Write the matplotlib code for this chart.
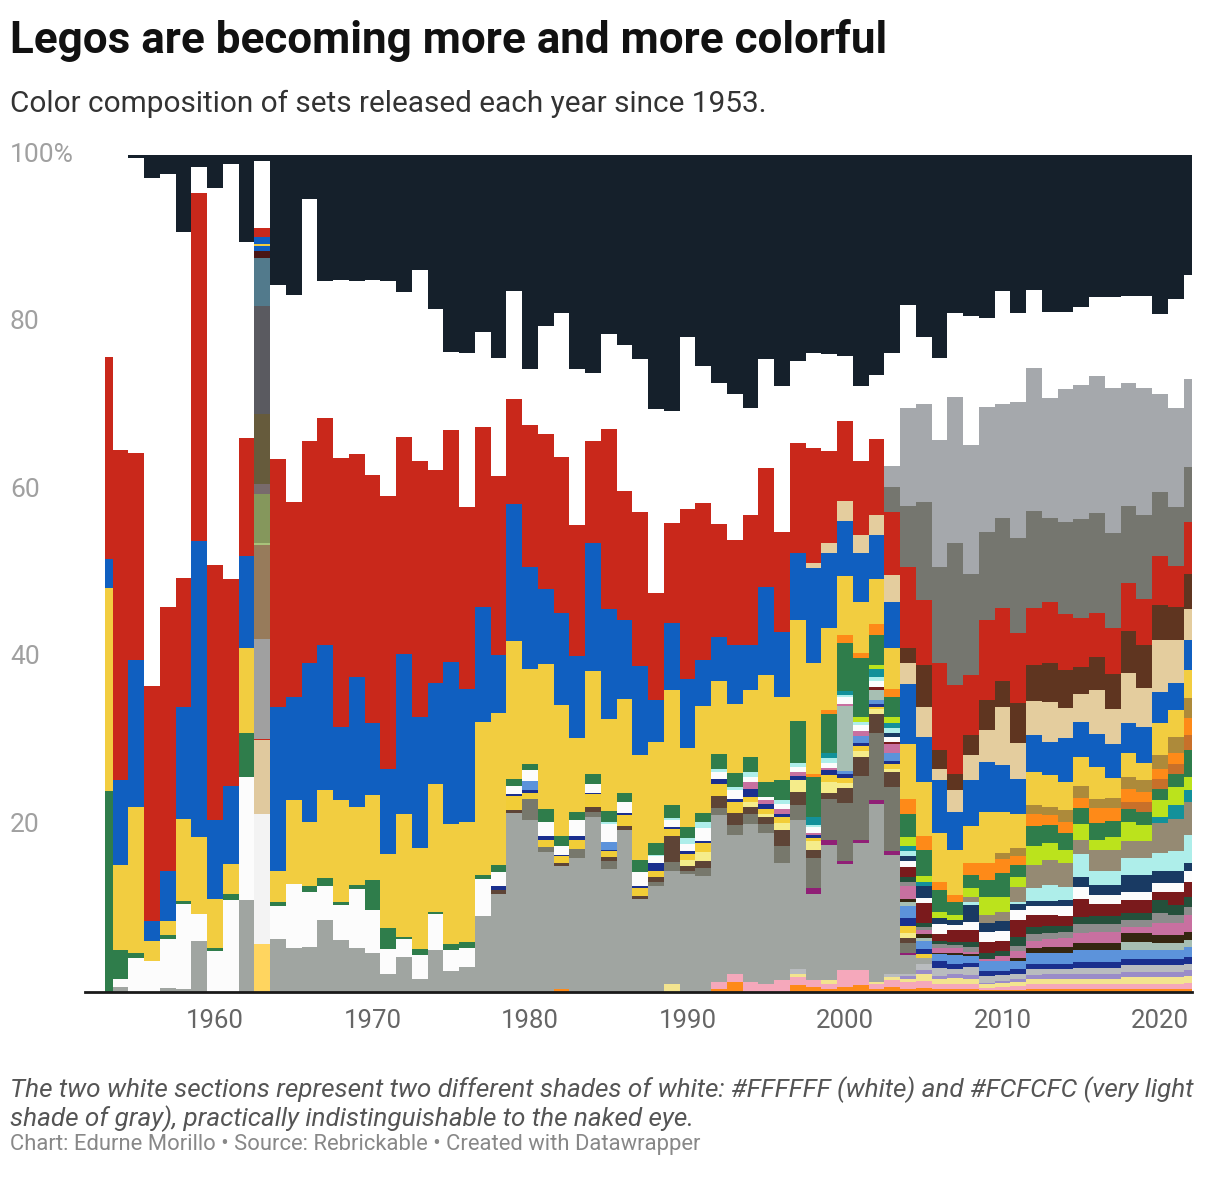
import numpy as np
import matplotlib.pyplot as plt

# Share of each Lego colour in the sets released per year (percent)
years = np.arange(1953, 2023)
N = len(years)


def pad(start, vals):
    # put a run of yearly values in place, zeros before and after
    out = [0.0] * (start - 1953) + list(vals)
    return out + [0.0] * (N - len(out))


# ---- bottom: tiny mixed colours ----
bot_orange = pad(1982, [0.3, 0, 0, 0, 0, 0, 0, 0, 0, 0, 0.4, 1.2, 0, 0, 0, 0.8, 0.6, 0.4, 0.6, 0.8,
                        0.3, 0.6, 0.4, 0.5, 0.4, 0.3, 0.3, 0.2, 0.2, 0.2, 0.3, 0.3, 0.3, 0.3, 0.3,
                        0.3, 0.3, 0.3, 0.3, 0.3, 0.3])
bot_pink = pad(1992, [0.8, 1.0, 1.2, 1.0, 1.4, 1.0, 0.8, 0.6, 2.0, 1.8, 0.6, 0.8, 0.8, 0.8, 0.6, 0.7,
                      0.6, 0.3, 0.4, 0.5, 0.6, 0.6, 0.6, 0.6, 0.6, 0.6, 0.7, 0.7, 0.7, 0.7, 0.8])
bot_yellow = pad(1989, [1.0, 0, 0, 0, 0, 0, 0, 0, 0.4, 0, 0.4, 0, 0, 0.3, 0.4, 0.4, 0.8, 0.6, 0.7, 0.7,
                        0.4, 0.5, 0.5, 0.7, 0.7, 0.7, 0.7, 0.7, 0.7, 0.8, 0.8, 0.8, 0.8, 0.8])
bot_lav = pad(2004, [0.3, 0.5, 0.3, 0.4, 0.4, 0.2, 0.2, 0.3, 0.4, 0.5, 0.5, 0.5, 0.5, 0.5, 0.6, 0.6,
                     0.6, 0.6, 0.7])
bot_gray = pad(1997, [0.6, 0, 0, 0, 0, 0, 0.4, 0.3, 0.7, 1.0, 0.7, 1.0, 0.8, 0.7, 0.7, 0.7, 0.7, 0.7,
                      0.8, 0.8, 0.8, 0.8, 0.8, 0.8, 0.8, 0.8])

# ---- old greys and the thin stripes above them ----
lgray = [0, 0.6, 0, 0, 0.5, 0.4, 6.1, 0, 0, 11.0,
         0,
         6.3, 5.2, 5.4, 8.6, 6.2, 5.2, 4.7, 2.2, 4.2, 1.5, 5.0, 2.5, 3.0, 9.1,
         11.7, 21.4, 20.5, 16.7, 14.7, 16.0, 20.9, 14.7, 19.3, 11.1, 12.7, 13.4, 14.1, 13.8, 20.0, 16.6,
         18.9, 18.0, 14.0, 17.7, 10.3, 16.2, 12.7, 15.2, 21.3, 14.2,
         2.2, 0.8, 0, 0, 0, 0, 0, 0, 0, 0, 0, 0, 0, 0, 0, 0, 0, 0, 0]
purple = pad(1998, [0.7, 0.6, 0.3, 0.4, 0.4, 0.4, 0.3])
dgray = pad(1980, [2.5, 0.6, 0, 1.1, 0.6, 1.0, 0, 0, 0.4, 1.1, 0.4, 1.0, 0.8, 1.1, 1.2, 1.1, 2.0, 1.8,
                   3.6, 4.8, 7.0, 7.6, 8.0, 7.7, 1.2])
brown = pad(1978, [0.5, 0.4, 0, 0, 0.4, 0, 0.6, 0.4, 0.5, 0.4, 0.6, 3.1, 0.6, 0.9, 1.4, 1.5, 0.8, 0.8,
                   2.0, 1.6, 1.0, 0.8, 1.7, 2.3, 2.3, 1.8, 0.6])
ltyellow = pad(1990, [0.7, 1.0, 0, 0, 0.6, 0.4, 0.8, 1.4, 1.0, 1.3, 0.7, 0.7, 0.6, 0.4, 0.6])
yellow_b = pad(1979, [1.6, 0.8, 0.9, 0.8, 1.1, 1.5, 0.7, 1.4, 0.9, 0.8, 0.9, 0.7, 1.1, 1.4, 1.3, 0.6,
                      0.6, 0.7, 0, 0.4, 0.8, 0.6, 0.6, 0.3, 0.5, 0.8, 0.4])
dkblue = pad(1978, [0.5, 0.3, 0.3, 0.4, 0.2, 0.4, 0.2, 0.2, 0.2, 0.3, 0.9, 0.2, 0.3, 0.3, 0.6, 0.3,
                    1.0, 0.6, 0.4, 0.5, 0.3, 0.6, 0.4, 0.3, 0.3, 0.4, 1.0, 0.6, 0.8, 0.6, 0.5, 0.6,
                    0.5, 0.5, 0.6, 0.6, 0.6, 0.7, 0.7, 0.7, 0.8, 0.8, 0.8, 0.8, 0.8])
medblue = pad(1980, [1.1, 0, 0, 0, 0, 0.9, 0, 0, 0, 0, 0, 0, 0, 0, 0, 0, 0, 0, 0, 0,
                     0.4, 0.9, 0.5, 1.0, 1.4, 1.0, 0.8, 1.0, 0.8, 1.2, 1.2, 1.0, 1.3, 1.3, 1.3, 1.4,
                     1.4, 1.4, 1.0, 1.0, 1.0, 1.0, 1.2])
sage = pad(2000, [7.7, 0, 1.2, 0, 0.5, 0.4, 0, 0, 0, 0, 0, 0, 0, 0, 0, 0, 0, 0, 1.0, 1.0, 0.8, 0.8,
                  0.8])
dkbrown = pad(2004, [0.3, 0.4, 0.2, 0.3, 0.2, 0, 0, 0.4, 0.6, 0.7, 0.7, 0.8, 0.8, 0.8, 1.0, 1.0, 1.0,
                     1.0, 1.0])
pink = pad(1994, [0.8, 0.4, 0.6, 0.5, 0.3, 0.3, 0.3, 0.6, 0, 1.0, 1.6, 0.5, 0.6, 0.5, 0.3, 0.3, 0.6,
                  0.8, 0.9, 0.9, 1.0, 1.3, 1.4, 1.4, 0.8, 0.8, 1.4, 1.4, 2.0])
mgray = pad(2004, [0.5, 0.4, 0.4, 0.4, 0.6, 0, 0, 0.6, 0.8, 0.8, 0.8, 1.0, 0.9, 0.9, 0.8, 0.8, 1.2,
                   1.0, 1.0])
dkgreen = pad(2004, [0.5, 0.4, 0.4, 0.4, 0.6, 0.6, 0.6, 1.1, 0.9, 0.8, 0.7, 0.8, 1.0, 1.0, 0.8, 0.8,
                     1.6, 1.2, 1.2])
dkred = pad(2002, [0.3, 0.3, 1.2, 2.4, 0.8, 1.4, 1.4, 1.4, 1.2, 2.0, 1.4, 1.3, 1.2, 2.2, 1.4, 1.4, 1.6,
                   1.6, 1.0, 1.6, 1.8])
offwhite = [0, 1.0, 4.1, 3.7, 5.8, 10.1, 3.2, 4.9, 11.0, 14.7,
            0,
            4.0, 7.7, 6.5, 4.1, 4.2, 7.1, 5.1, 2.9, 2.1, 2.9, 4.3, 2.5, 2.3, 4.4,
            1.6, 0.9, 1.3, 1.7, 1.0, 2.0, 1.1, 2.2, 1.3, 1.6, 0.8, 0.9, 0.9, 1.5, 0.9, 1.1,
            0.6, 0.4, 0.6, 0.6, 0.7, 0.5, 0.8, 0.7, 0.8, 0.6,
            0.8, 0.6, 1.2, 0.6, 1.0, 1.2, 1.2, 1.2, 1.1, 1.1, 1.2, 1.4, 1.1, 1.1, 1.0, 1.0, 1.0, 1.0, 1.2]
navy = pad(2003, [0.4, 0.6, 1.5, 0.8, 0.6, 2.0, 1.0, 1.2, 0.7, 0.6, 0.6, 0.7, 1.2, 1.2, 1.2, 2.0, 2.0,
                  1.4, 1.5, 1.0])
aqua = pad(1985, [0.2, 0, 0, 0.2, 0.2, 0.7, 0.7, 0.4, 0.4, 0.6, 0, 0.4, 0.5, 0.3, 0.6, 0.3, 0.4, 0.4,
                  0.6, 0.6, 0, 0, 0, 0.4, 0, 0, 0.3, 1.5, 1.9, 1.6, 2.8, 1.6, 1.7, 2.0, 2.0, 2.2, 2.4,
                  3.3])
dtan = pad(2008, [0.6, 1.0, 1.1, 1.8, 2.8, 3.0, 2.8, 1.6, 2.5, 2.4, 2.0, 2.0, 3.6, 3.8, 4.0])
teal = pad(1998, [0.9, 0.7, 0.4, 0, 1.0, 0.6, 0.6, 0.5, 0, 0, 0, 0, 0, 0, 0, 0, 0, 0, 0, 0, 0, 0,
                  0.7, 1.6, 1.4])
lime = pad(2001, [0.6, 0.5, 0.8, 1.0, 0.7, 0.7, 0.6, 1.0, 2.2, 1.8, 1.1, 2.2, 2.0, 1.6, 2.0, 1.3, 1.6,
                  2.3, 2.0, 2.0, 2.2, 1.6])

# ---- the big colours ----
green = [24.0, 3.4, 0.5, 0, 0.5, 0.4, 0, 0.3, 0.7, 5.2,
         0,
         0.5, 0, 0.8, 0.9, 0.3, 0.5, 3.6, 2.6, 0.3, 0.7, 0.2, 0.7, 0.7, 0.5,
         0.9, 0.9, 0.7, 1.6, 1.2, 0.9, 1.1, 1.3, 1.1, 1.5, 1.4, 1.5, 1.3, 1.1, 1.7, 1.7,
         1.8, 1.8, 2.4, 5.0, 4.8, 4.6, 5.7, 7.0, 3.6, 2.3,
         2.8, 3.1, 2.6, 1.6, 1.6, 2.0, 2.8, 1.5, 2.4, 2.2, 2.0, 1.9, 2.0, 1.9, 1.6, 1.5, 1.4, 1.6, 3.2]
dkorange = pad(2018, [0.8, 1.2, 1.2, 1.1, 1.8])
orange = pad(1998, [0.4, 0.5, 1.0, 0.6, 1.3, 1.0, 1.8, 1.6, 1.0, 0.8, 1.4, 2.0, 1.7, 1.0, 1.5, 1.1,
                    1.3, 1.2, 1.8, 1.6, 1.6, 1.2, 1.2, 1.4, 2.0])
gold = pad(2010, [0.7, 1.0, 1.0, 1.0, 1.4, 1.4, 1.0, 1.2, 1.4, 1.4, 1.6, 1.9, 2.4])
yellow = [24.3, 10.2, 17.5, 2.4, 1.7, 9.8, 9.2, 5.9, 3.6, 10.2,
          0,
          3.6, 10.0, 7.6, 10.5, 12.2, 9.3, 10.1, 8.8, 14.7, 12.1, 15.3, 14.4, 14.3, 18.3,
          18.1, 16.4, 11.4, 17.3, 15.7, 8.9, 12.4, 11.0, 11.2, 12.5, 12.1, 13.8, 9.5, 12.8, 8.7, 8.2,
          8.0, 12.8, 9.9, 12.1, 13.2, 9.8, 7.1, 6.1, 5.4, 4.9,
          6.5, 6.5, 5.8, 5.4, 4.4, 6.1, 4.9, 4.1, 4.0, 3.8, 3.4, 3.4, 3.8, 2.4, 2.8, 2.0, 3.8, 3.2, 3.4]
blue = [3.4, 10.1, 17.6, 2.4, 5.9, 13.4, 35.4, 9.4, 9.3, 11.0,
        0,
        19.6, 12.4, 19.0, 17.3, 8.8, 15.5, 8.6, 10.2, 19.1, 15.6, 12.1, 19.3, 15.9, 13.7,
        7.0, 16.4, 12.2, 9.0, 11.0, 9.8, 15.3, 13.2, 9.5, 10.6, 5.0, 8.0, 8.2, 5.5, 5.3, 7.0,
        5.4, 10.5, 7.8, 7.9, 11.3, 8.9, 6.5, 5.8, 5.2, 5.5,
        7.2, 5.4, 6.3, 4.5, 5.5, 6.0, 5.6, 4.1, 4.4, 4.0, 5.2, 4.2, 4.0, 4.0, 3.6, 4.4, 3.8, 3.2, 3.6]
tan = pad(1998, [0.6, 1.2, 2.4, 2.2, 2.4, 3.2, 2.5, 3.6, 1.4, 2.6, 3.0, 3.8, 7.0, 4.3, 4.1, 4.8, 3.6,
                 3.4, 5.2, 4.2, 6.0, 4.6, 6.2, 5.2, 3.7])
rbrown = pad(2004, [1.8, 5.0, 2.2, 2.0, 2.4, 3.6, 3.0, 4.8, 4.3, 4.6, 4.6, 3.2, 4.0, 4.2, 5.0, 5.2,
                    4.1, 3.9, 4.2])
red = [24.2, 39.4, 24.7, 28.1, 31.6, 15.4, 41.6, 30.5, 24.8, 14.1,
       0,
       29.7, 23.3, 26.5, 27.2, 32.1, 26.7, 29.7, 32.5, 25.9, 30.6, 25.5, 27.8, 21.8, 21.5,
       21.3, 12.6, 17.0, 18.5, 18.6, 15.6, 12.1, 21.5, 15.4, 18.4, 12.8, 11.9, 20.3, 18.7, 13.5, 12.6,
       15.5, 14.2, 11.9, 13.2, 13.8, 11.0, 9.5, 8.8, 9.1, 7.6,
       9.7, 7.7, 10.4, 10.6, 7.2, 9.5, 8.8, 8.4, 6.8, 7.3, 6.7, 5.8, 5.2, 5.5, 5.8, 5.5, 5.9, 4.9, 6.2]
dbgray = pad(2003, [2.9, 7.3, 11.7, 11.5, 16.9, 12.1, 10.6, 10.7, 11.3, 11.6, 10.0, 10.9, 11.8, 12.0,
                    11.3, 9.2, 10.0, 7.6, 7.1, 6.5])
lbgray = pad(2003, [2.5, 11.7, 11.8, 15.2, 17.5, 15.3, 14.9, 13.7, 16.3, 17.0, 14.4, 16.0, 16.1, 16.3,
                    17.3, 14.7, 15.2, 11.7, 11.8, 10.5])
white = [24.1, 35.3, 35.3, 60.7, 51.7, 41.3, 3.1, 45.1, 49.5, 23.4,
         0,
         20.8, 24.7, 28.9, 16.4, 21.3, 20.6, 23.3, 25.7, 17.3, 22.9, 19.2, 9.3, 18.3, 11.4,
         14.2, 12.9, 6.6, 12.9, 17.2, 18.6, 8.2, 11.3, 17.4, 18.3, 21.9, 13.4, 20.5, 16.4, 16.9, 17.4,
         12.8, 13.0, 17.5, 9.8, 11.3, 11.6, 7.8, 9.0, 7.6, 13.6,
         12.3, 7.9, 9.8, 10.0, 15.5, 10.6, 13.4, 10.6, 9.4, 10.2, 9.1, 9.3, 9.4, 10.8, 10.3, 10.9, 9.6, 13.0, 12.5]
black = [0, 0, 0.3, 2.7, 2.3, 9.2, 1.4, 3.9, 1.1, 10.4,
         0,
         15.5, 16.7, 5.3, 15.0, 14.9, 15.1, 14.9, 15.1, 16.4, 13.7, 18.4, 23.5, 23.7, 21.1,
         24.2, 16.2, 25.6, 20.4, 18.9, 25.6, 26.0, 21.4, 22.7, 24.4, 30.4, 30.6, 21.8, 25.2, 27.2, 28.6,
         30.2, 24.4, 27.6, 24.6, 23.7, 23.8, 24.0, 27.6, 26.3, 23.6,
         17.9, 21.8, 24.2, 18.9, 19.2, 19.5, 16.3, 18.9, 16.1, 18.8, 18.8, 18.1, 17.0, 17.0, 16.9, 16.9, 19.0, 17.2, 14.3]

# 1963 used a very different mix of colours, bottom to top
year_1963 = 1963
shares_1963 = [5.8, 15.5, 8.8, 0.2, 11.9, 11.3, 0.2, 5.8, 1.3, 8.3, 13.0, 5.7, 0.8, 0.6, 0.3, 0.8,
               1.1, 8.0, 0.7]

# ---- styling ----
stack = [
    ("bot_orange", bot_orange, "#FE8A18"), ("bot_pink", bot_pink, "#F5A8BB"),
    ("bot_yellow", bot_yellow, "#F3E48F"), ("bot_lav", bot_lav, "#9A8CC8"),
    ("bot_gray", bot_gray, "#B9BCBF"), ("lgray", lgray, "#A0A5A1"),
    ("purple", purple, "#901F76"), ("dgray", dgray, "#77786C"),
    ("brown", brown, "#5E4436"), ("ltyellow", ltyellow, "#F5EC8A"),
    ("yellow_b", yellow_b, "#F2CD37"), ("dkblue", dkblue, "#1A2F8E"),
    ("medblue", medblue, "#5C93DB"), ("sage", sage, "#A7BFB3"),
    ("dkbrown", dkbrown, "#352610"), ("pink", pink, "#C870A0"),
    ("mgray", mgray, "#8C8C8C"), ("dkgreen", dkgreen, "#24503B"),
    ("dkred", dkred, "#7A1A1C"), ("offwhite", offwhite, "#FCFCFC"),
    ("navy", navy, "#193A63"), ("aqua", aqua, "#AEEEEA"),
    ("dtan", dtan, "#958A73"), ("teal", teal, "#13919A"),
    ("lime", lime, "#BBE31C"), ("green", green, "#2F7D4B"),
    ("dkorange", dkorange, "#C8702A"), ("orange", orange, "#FE8A18"),
    ("gold", gold, "#AD8A3A"), ("yellow", yellow, "#F2CD40"),
    ("blue", blue, "#105FC0"), ("tan", tan, "#E4CD9E"),
    ("rbrown", rbrown, "#5F3520"), ("red", red, "#C9281B"),
    ("dbgray", dbgray, "#75766F"), ("lbgray", lbgray, "#A5A8AC"),
    ("white", white, "#FFFFFF"), ("black", black, "#15202B"),
]
colors_1963 = ["#FFD55F", "#F3F3F3", "#E0C99E", "#C9281B", "#A0A0A0", "#977B5B", "#A9C27A",
               "#85975C", "#786A6C", "#665B3C", "#5A5A60", "#527A8C", "#4A1515", "#105FC0",
               "#F2CD40", "#105FC0", "#C9281B", "#FFFFFF", "#15202B"]

plt.rcParams['font.family'] = ['Roboto', 'DejaVu Sans']

fig = plt.figure(figsize=(12.2, 11.8), dpi=100)
ax = fig.add_axes([104.75 / 1220, 188 / 1180, 1086.75 / 1220, 837 / 1180])

# percent-stacked: each year sums to 100
vals = np.array([s[1] for s in stack], dtype=float)
totals = vals.sum(axis=0)
totals[totals == 0] = 1
vals = vals / totals * 100

bottom = np.zeros(N)
for (name, _, col), v in zip(stack, vals):
    ax.bar(years, v, bottom=bottom, width=1.0, color=col, linewidth=0)
    bottom += v

s63 = np.array(shares_1963) / sum(shares_1963) * 100
b = 0
for v, col in zip(s63, colors_1963):
    ax.bar(year_1963, v, bottom=b, width=1.0, color=col, linewidth=0)
    b += v

ax.set_xlim(1953, 2022)
ax.set_ylim(0, 100)
for sp in ax.spines.values():
    sp.set_visible(False)
ax.set_yticks([])
ax.set_xticks([1960, 1970, 1980, 1990, 2000, 2010, 2020])
ax.tick_params(axis='x', length=0, pad=12, labelsize=18.5, labelcolor='#666666')

# baseline
ax.plot([1951.75, 2022], [0, 0], color='#1a1a1a', lw=2, clip_on=False, zorder=5)

# y labels, left aligned at the edge of the figure
for v, lab in zip([100, 80, 60, 40, 20], ["100%", "80", "60", "40", "20"]):
    ax.text(-0.0872, v, lab, transform=ax.get_yaxis_transform(), ha='left', va='center',
            fontsize=19, color='#a0a0a0')

fig.text(10 / 1220, 1 - 53 / 1180, "Legos are becoming more and more colorful",
         fontsize=31.7, fontweight='bold', color='#111111', va='baseline', ha='left')
fig.text(10 / 1220, 1 - 112 / 1180, "Color composition of sets released each year since 1953.",
         fontsize=21.4, color='#333333', va='baseline', ha='left')
fig.text(10 / 1220, 1 - 1097 / 1180,
         "The two white sections represent two different shades of white: #FFFFFF (white) and #FCFCFC (very light",
         fontsize=18.8, style='italic', color='#555555', va='baseline', ha='left')
fig.text(10 / 1220, 1 - 1126 / 1180,
         "shade of gray), practically indistinguishable to the naked eye.",
         fontsize=18.8, style='italic', color='#555555', va='baseline', ha='left')
fig.text(10 / 1220, 1 - 1150 / 1180,
         "Chart: Edurne Morillo \u2022 Source: Rebrickable \u2022 Created with Datawrapper",
         fontsize=15.8, color='#888888', va='baseline', ha='left')

fig.savefig('out.png', dpi=100, facecolor='white')
